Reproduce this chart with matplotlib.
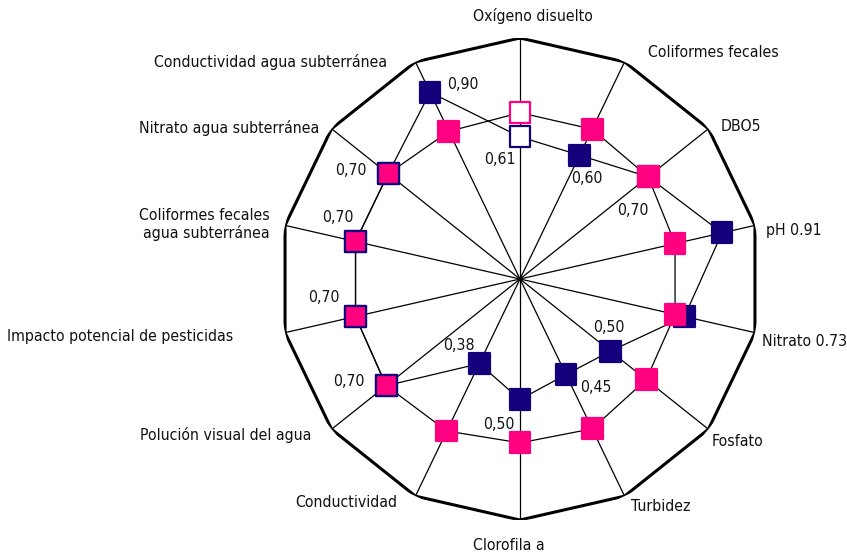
import numpy as np
import matplotlib
matplotlib.use("Agg")
import matplotlib.pyplot as plt
from matplotlib import font_manager as fm

# pick a narrow font if one is installed
names = {f.name for f in fm.fontManager.ttflist}
stretches = {(f.name, f.stretch) for f in fm.fontManager.ttflist}
font_stretch = 'normal'
if 'Liberation Sans Narrow' in names:
    family = 'Liberation Sans Narrow'
elif ('DejaVu Sans', 'condensed') in stretches or \
        ('DejaVu Sans', 'semi-condensed') in stretches:
    family = 'DejaVu Sans'
    font_stretch = 'condensed'
else:
    family = 'Liberation Sans'
plt.rcParams['font.family'] = [family, 'DejaVu Sans']
plt.rcParams['font.stretch'] = font_stretch

categories = ["Oxígeno disuelto", "Coliformes fecales", "DBO5", "pH 0.91",
              "Nitrato 0.73", "Fosfato", "Turbidez", "Clorofila a",
              "Conductividad", "Polución visual del agua",
              "Impacto potencial de pesticidas",
              "Coliformes fecales\nagua subterránea",
              "Nitrato agua subterránea", "Conductividad agua subterránea"]

# values
navy_vals = [0.59, 0.57, 0.68, 0.86, 0.70, 0.48, 0.44, 0.50, 0.39,
             0.71, 0.70, 0.70, 0.70, 0.86]
pink_vals = [0.69, 0.69, 0.68, 0.66, 0.66, 0.67, 0.69, 0.68, 0.70,
             0.71, 0.70, 0.70, 0.70, 0.68]

# data labels: (category index, text)
value_labels = [(13, "0,90"), (0, "0,61"), (1, "0,60"), (2, "0,70"),
                (5, "0,50"), (6, "0,45"), (7, "0,50"), (8, "0,38"),
                (12, "0,70"), (11, "0,70"), (10, "0,70"), (9, "0,70")]

navy = '#14007A'
pink = '#FF0080'

n = len(categories)
theta = np.arange(n) * 2 * np.pi / n

fig = plt.figure(figsize=(8.47, 5.56), dpi=100)

# size the font so "Coliformes fecales" is ~131 px wide, as in the reference
probe = fig.text(0, 0, "Coliformes fecales", fontsize=14)
fig.canvas.draw()
w = probe.get_window_extent().width
probe.remove()
fsize = 14 * 131 / w

ax = fig.add_axes([279 / 847, 36 / 556, 482 / 847, 482 / 556],
                  projection='polar')
ax.set_theta_zero_location('N')
ax.set_theta_direction(-1)
ax.set_ylim(0, 1)
ax.grid(False)
ax.set_xticks([])
ax.set_yticks([])
ax.spines['polar'].set_visible(False)
ax.patch.set_alpha(0)

# spokes and outer frame
for t in theta:
    ax.plot([t, t], [0, 1], color='black', lw=0.9, zorder=1)
closed = np.append(theta, theta[0])
ax.plot(closed, np.ones(n + 1), color='black', lw=2.2, zorder=2,
        solid_joinstyle='miter')

# series lines (black)
ax.plot(closed, navy_vals + navy_vals[:1], color='black', lw=0.9, zorder=3)
ax.plot(closed, pink_vals + pink_vals[:1], color='black', lw=0.9, zorder=3)

# navy markers
navy_face = [navy] * n
navy_face[0] = 'white'
ax.scatter(theta, navy_vals, s=15 ** 2, marker='s', c=navy_face,
           edgecolors=navy, linewidths=1.6, zorder=4)

# pink markers (navy edge where the two series overlap)
pink_face = [pink] * n
pink_face[0] = 'white'
pink_edge = [pink] * n
for i in [9, 10, 11, 12]:
    pink_edge[i] = navy
ax.scatter(theta, pink_vals, s=15 ** 2, marker='s', c=pink_face,
           edgecolors=pink_edge, linewidths=1.6, zorder=5)

# category labels: offsets in pixels from the outer vertex
cat_offsets = [(13, 22, 'center'), (23, 9, 'left'), (12, 2, 'left'),
               (11, -5, 'left'), (7, -9, 'left'), (3, -12, 'left'),
               (6, -10, 'left'), (-11, -26, 'center'), (-18, -6, 'right'),
               (-20, -6, 'right'), (-52, -4, 'right'), (-15, 1, 'right'),
               (-12, 1, 'right'), (-28, 0, 'right')]
for i, (lab, (dx, dy, ha)) in enumerate(zip(categories, cat_offsets)):
    ax.annotate(lab, xy=(theta[i], 1), xytext=(dx, dy),
                textcoords='offset pixels', ha=ha, va='center',
                fontsize=fsize, color='#111111', multialignment='right',
                annotation_clip=False)

# value labels: offsets in pixels from the navy point
val_offsets = {13: (17, 8, 'left'), 0: (-20, -23, 'center'),
               1: (7, -23, 'center'), 2: (-15, -34, 'center'),
               5: (-2, 24, 'center'), 6: (30, -13, 'center'),
               7: (-21, -25, 'center'), 8: (-20, 18, 'center'),
               12: (-37, 3, 'center'), 11: (-18, 24, 'center'),
               10: (-32, 19, 'center'), 9: (-37, 4, 'center')}
for i, txt in value_labels:
    dx, dy, ha = val_offsets[i]
    ax.annotate(txt, xy=(theta[i], navy_vals[i]), xytext=(dx, dy),
                textcoords='offset pixels', ha=ha, va='center',
                fontsize=fsize, color='#111111', zorder=6)

fig.savefig('out.png', dpi=100)
